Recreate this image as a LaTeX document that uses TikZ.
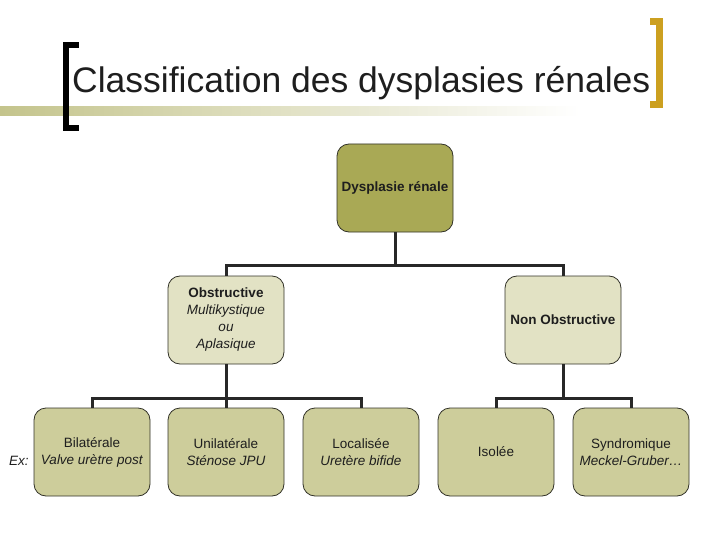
\documentclass[tikz,border=0pt]{standalone}
\usepackage{fontspec}
\setmainfont{Liberation Sans}
\usetikzlibrary{positioning}
\definecolor{rootfill}{RGB}{169,169,85}
\definecolor{midfill}{RGB}{226,226,196}
\definecolor{leaffill}{RGB}{205,205,155}
\definecolor{edgegray}{RGB}{50,50,40}
\definecolor{linedark}{RGB}{40,40,40}
\definecolor{barolive}{RGB}{196,196,140}
\definecolor{goldbr}{RGB}{204,160,32}
\definecolor{txt}{RGB}{30,30,30}
\tikzset{
  box/.style={draw=edgegray, line width=0.8pt, rounded corners=12pt,
    minimum width=116pt, minimum height=88pt, inner sep=2pt, align=center,
    text=txt, font=\fontsize{13.5}{17}\selectfont},
  rootbox/.style={box, fill=rootfill},
  midbox/.style={box, fill=midfill},
  leafbox/.style={box, fill=leaffill},
  conn/.style={draw=linedark, line width=3pt, line join=miter, line cap=butt}
}
\begin{document}
\begin{tikzpicture}[x=1pt,y=-1pt]
\useasboundingbox (0,0) rectangle (720,540);
% title decoration
\shade[left color=barolive, right color=white, draw=none] (0,107) rectangle (580,116);
\fill[black] (63,42) rectangle (69,131);
\fill[black] (63,42) rectangle (79,48);
\fill[black] (63,125) rectangle (79,131);
\fill[goldbr] (656,18) rectangle (663,108);
\fill[goldbr] (650,18) rectangle (663,25);
\fill[goldbr] (650,101) rectangle (663,108);
\node[anchor=base west, inner sep=0pt, text=txt, font=\fontsize{35.5}{40}\selectfont] (title) at (72,93) {Classification des dysplasies rénales};
% nodes
\node[rootbox] (root) at (395,188) {\textbf{Dysplasie rénale}};
\node[midbox] (obs) at (226,320) {\textbf{Obstructive}\\\textit{Multikystique}\\\textit{ou}\\\textit{Aplasique}};
\node[midbox] (nob) at (563,320) {\textbf{Non Obstructive}};
\node[leafbox] (bil) at (92,452) {Bilatérale\\\textit{Valve urètre post}};
\node[leafbox] (uni) at (226,452) {Unilatérale\\\textit{Sténose JPU}};
\node[leafbox] (loc) at (361,452) {Localisée\\\textit{Uretère bifide}};
\node[leafbox] (iso) at (496,452) {Isolée};
\node[leafbox] (syn) at (631,452) {Syndromique\\\textit{Meckel-Gruber…}};
\node[anchor=base west, inner sep=0pt, text=txt, font=\fontsize{13.5}{17}\selectfont\itshape] (ex) at (9,465) {Ex:};
% connectors
\coordinate (j1) at (395,265);
\coordinate (j2) at (226,398);
\coordinate (j3) at (563,398);
\draw[conn] (root.south) -- (j1);
\draw[conn] (obs.north) |- (j1) -| (nob.north);
\draw[conn] (obs.south) -- (j2);
\draw[conn] (bil.north) |- (j2) -| (loc.north);
\draw[conn] (j2) -- (uni.north);
\draw[conn] (nob.south) -- (j3);
\draw[conn] (iso.north) |- (j3) -| (syn.north);
\end{tikzpicture}
\end{document}
